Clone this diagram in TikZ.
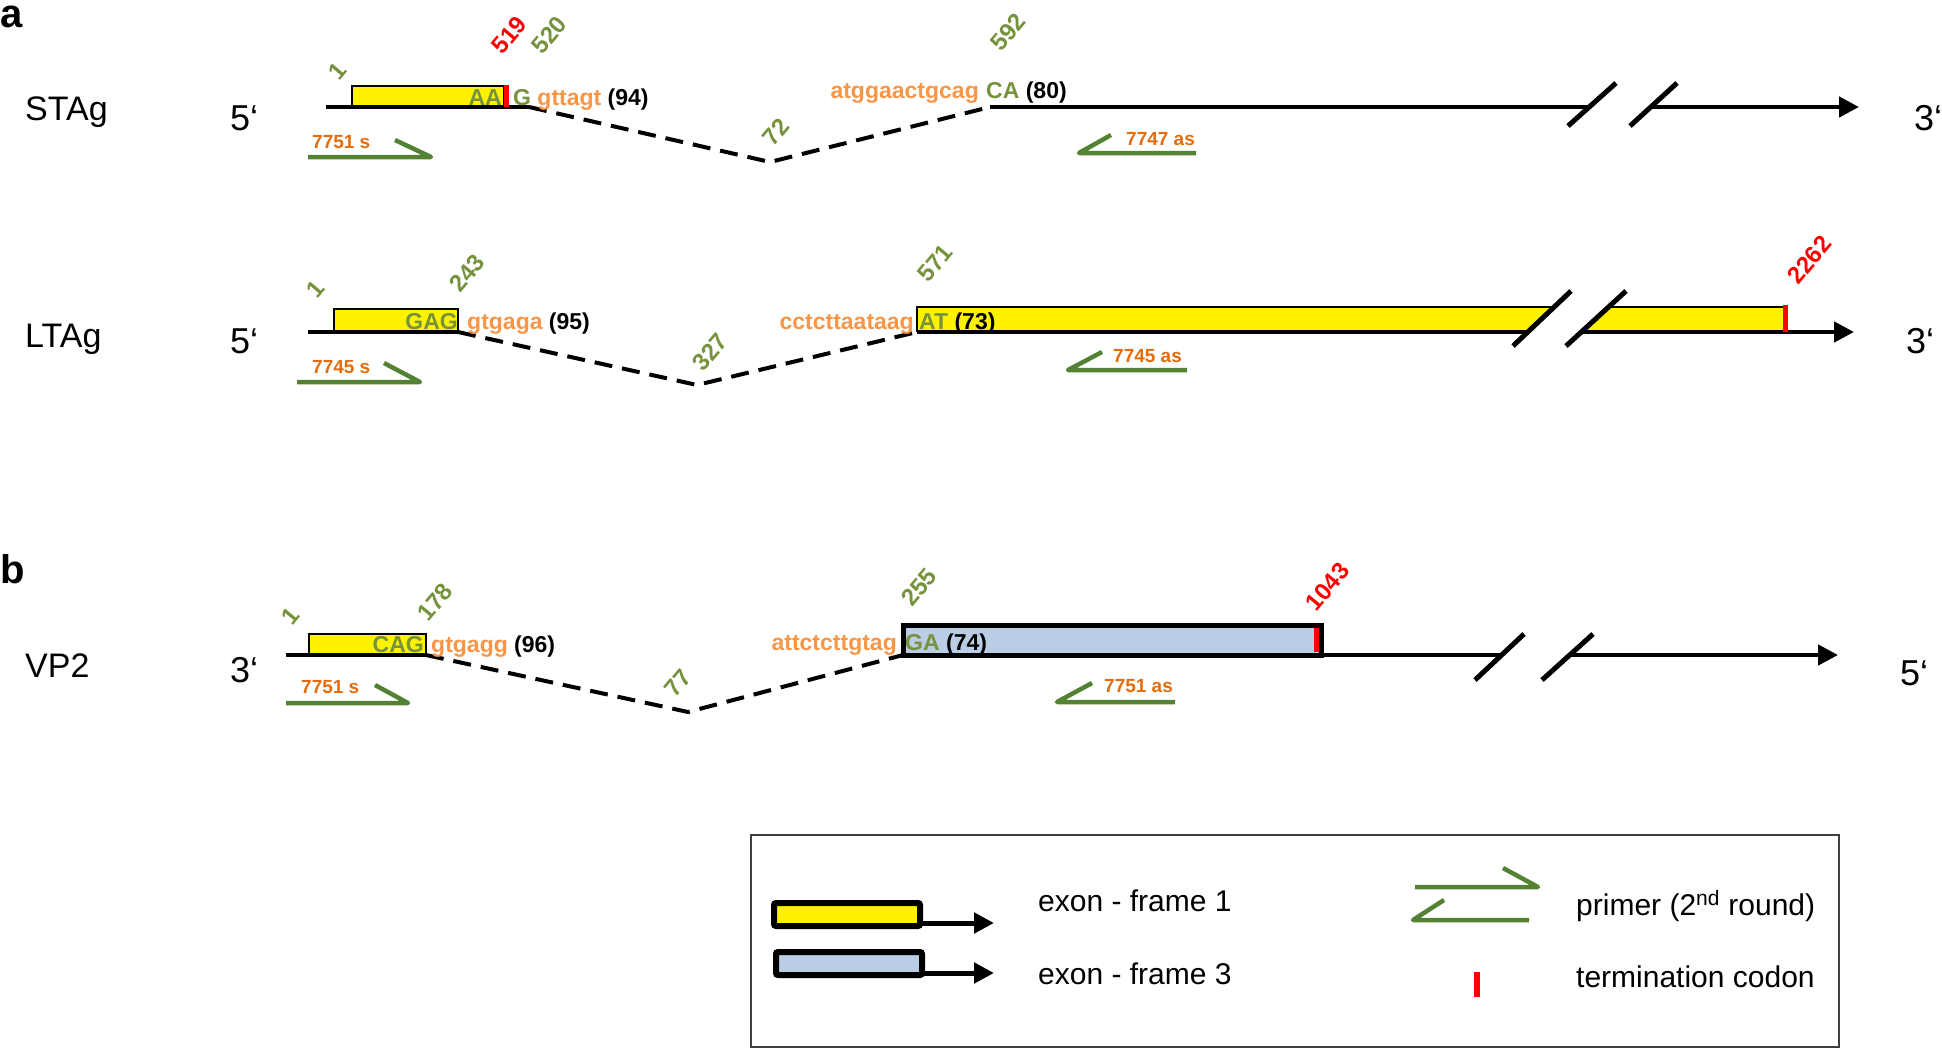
\documentclass[tikz,border=0pt]{standalone}
\usepackage{fontspec}
\setmainfont{Liberation Sans}
\usepackage{xcolor}
\usepackage{tikz}
\usetikzlibrary{arrows.meta}
\definecolor{olivegrn}{RGB}{118,146,60}
\definecolor{primgrn}{RGB}{84,130,53}
\definecolor{seqorange}{RGB}{247,150,70}
\definecolor{lblorange}{RGB}{228,108,10}
\definecolor{vpblue}{RGB}{185,205,228}
\def\fs#1{\fontsize{#1}{#1}\selectfont}
\tikzstyle{gene}=[line width=3.5pt]
\tikzstyle{genearrow}=[line width=4.5pt,-{Triangle[length=20pt,width=20pt]}]
\tikzstyle{intron}=[line width=4pt,dash pattern=on 18pt off 10pt]
\tikzstyle{frameone}=[draw=black,fill=yellow,line width=2pt]
\tikzstyle{framethree}=[draw=black,fill=vpblue,line width=5pt]
\tikzstyle{stopbar}=[draw=red,line width=5pt]
\tikzstyle{slash}=[line width=5pt]
\tikzstyle{primer}=[draw=primgrn,line width=4.5pt,line join=round]
\tikzstyle{numlabel}=[font=\fs{24}\bfseries,text=olivegrn,rotate=50,anchor=south west,inner sep=0pt]
\tikzstyle{stoplabel}=[numlabel,text=red]
\tikzstyle{seq}=[font=\fs{23}\bfseries,inner sep=0pt,anchor=base west]
\tikzstyle{plabel}=[font=\fs{19}\bfseries,text=lblorange,inner sep=0pt,anchor=base west]
\tikzstyle{gname}=[font=\fs{34},inner sep=0pt,anchor=base west]
\tikzstyle{strand}=[font=\fs{36},inner sep=0pt,anchor=base west]
\tikzstyle{panel}=[font=\fs{40}\bfseries,inner sep=0pt,anchor=base west]
\tikzstyle{legtext}=[font=\fs{30},inner sep=0pt,anchor=base west]
\tikzstyle{legarrow}=[line width=5pt,-{Triangle[length=20pt,width=20pt]}]

\begin{document}
\begin{tikzpicture}[x=1pt,y=-1pt]
  \useasboundingbox (0,0) rectangle (1942,1049);

  % ---- a: STAg
  \node[panel] (pa) at (0,28) {a};
  \node[gname] (stname) at (25,120) {STAg};
  \node[strand] (st5) at (230,130) {5‘};
  \node[strand] (st3p) at (1914,130) {3‘};
  \coordinate (st0) at (326,107);
  \coordinate (st1) at (529,107);
  \coordinate (stv) at (770,162);
  \coordinate (st2) at (990,107);
  \coordinate (stb1) at (1589,107);
  \coordinate (stb2) at (1651,107);
  \coordinate (stend) at (1859,107);
  \draw[frameone] (352,107) rectangle (504,86);
  \draw[gene] (st0) -- (st1);
  \draw[intron] (st1) -- (stv) -- (st2);
  \draw[gene,line width=4.5pt] (st2) -- (stb1);
  \draw[genearrow] (stb2) -- (stend);
  \draw[slash] (1568,126) -- (1616,83);
  \draw[slash] (1630,126) -- (1677,83);
  \draw[stopbar] (506,85) -- (506,107);
  \node[seq,anchor=base east,text=olivegrn] (staa) at (502,105) {AA};
  \node[seq] (stdon) at (513,105) {\textcolor{olivegrn}{G} \textcolor{seqorange}{gttagt} (94)};
  \node[seq,anchor=base east,text=seqorange] (stacc) at (979,98) {atggaactgcag};
  \node[seq] (stca) at (986,98) {\textcolor{olivegrn}{CA} (80)};
  \node[numlabel] (st1n) at (340,82) {1};
  \node[stoplabel] (st519) at (503,56) {519};
  \node[numlabel] (st520) at (543,56) {520};
  \node[numlabel] (st72) at (774,148) {72};
  \node[numlabel] (st592) at (1002,53) {592};
  % primers
  \coordinate (sps0) at (308,157); \coordinate (sps1) at (431,157); \coordinate (sps2) at (395,140);
  \draw[primer] (sps0) -- (sps1) -- (sps2);
  \node[plabel] (spsl) at (312,148) {7751 s};
  \coordinate (spa0) at (1196,153); \coordinate (spa1) at (1079,153); \coordinate (spa2) at (1111,135);
  \draw[primer] (spa0) -- (spa1) -- (spa2);
  \node[plabel] (spal) at (1126,145) {7747 as};

  % ---- a: LTAg
  \node[gname] (ltname) at (25,347) {LTAg};
  \node[strand] (lt5) at (230,353) {5‘};
  \node[strand] (lt3p) at (1906,353) {3‘};
  \coordinate (lt0) at (308,332);
  \coordinate (lt1) at (458,332);
  \coordinate (ltv) at (697,385);
  \coordinate (lt2) at (917,332);
  \coordinate (ltb1) at (1528,332);
  \coordinate (ltb2) at (1581,332);
  \coordinate (ltend) at (1854,332);
  \draw[frameone] (334,332) rectangle (458,309);
  \fill[yellow] (917,307) -- (1554,307) -- (ltb1) -- (lt2) -- cycle;
  \fill[yellow] (1607,307) -- (1785,307) -- (1785,332) -- (ltb2) -- cycle;
  \draw[line width=2pt] (lt2) -- (917,307) -- (1554,307);
  \draw[line width=2pt] (1607,307) -- (1785,307);
  \draw[gene] (lt0) -- (lt1);
  \draw[intron] (lt1) -- (ltv) -- (lt2);
  \draw[gene,line width=4.5pt] (lt2) -- (ltb1);
  \draw[genearrow] (ltb2) -- (ltend);
  \draw[slash] (1513,346) -- (1571,291);
  \draw[slash] (1566,346) -- (1626,291);
  \draw[stopbar] (1785,305) -- (1785,332);
  \node[seq,anchor=base east,text=olivegrn] (ltgag) at (458,329) {GAG};
  \node[seq] (ltdon) at (467,329) {\textcolor{seqorange}{gtgaga} (95)};
  \node[seq,anchor=base east,text=seqorange] (ltacc) at (914,329) {cctcttaataag};
  \node[seq] (ltat) at (919,329) {\textcolor{olivegrn}{AT} (73)};
  \node[numlabel] (lt1n) at (318,300) {1};
  \node[numlabel] (lt243) at (461,294) {243};
  \node[numlabel] (lt327) at (704,373) {327};
  \node[numlabel] (lt571) at (929,284) {571};
  \node[stoplabel] (lt2262) at (1799,286) {2262};
  \coordinate (lps0) at (297,382); \coordinate (lps1) at (420,382); \coordinate (lps2) at (384,363);
  \draw[primer] (lps0) -- (lps1) -- (lps2);
  \node[plabel] (lpsl) at (312,373) {7745 s};
  \coordinate (lpa0) at (1187,370); \coordinate (lpa1) at (1068,370); \coordinate (lpa2) at (1102,352);
  \draw[primer] (lpa0) -- (lpa1) -- (lpa2);
  \node[plabel] (lpal) at (1113,362) {7745 as};

  % ---- b: VP2
  \node[panel] (pb) at (0,583) {b};
  \node[gname] (vpname) at (25,677) {VP2};
  \node[strand] (vp3) at (230,682) {3‘};
  \node[strand] (vp5p) at (1900,685) {5‘};
  \coordinate (vp0) at (286,655);
  \coordinate (vp1) at (426,655);
  \coordinate (vpv) at (688,712);
  \coordinate (vp2) at (903,655);
  \coordinate (vpb1) at (1502,655);
  \coordinate (vpb2) at (1570,655);
  \coordinate (vpend) at (1838,655);
  \draw[frameone] (309,655) rectangle (426,634);
  \draw[gene] (vp0) -- (vp1);
  \draw[intron] (vp1) -- (vpv) -- (vp2);
  \draw[gene,line width=4.5pt] (vp2) -- (vpb1);
  \draw[framethree] (vp2) rectangle (1321,625);
  \draw[genearrow] (vpb2) -- (vpend);
  \draw[slash] (1475,680) -- (1524,634);
  \draw[slash] (1542,680) -- (1593,634);
  \draw[stopbar] (1316,628) -- (1316,652);
  \node[seq,anchor=base east,text=olivegrn] (vpcag) at (424,652) {CAG};
  \node[seq] (vpdon) at (431,652) {\textcolor{seqorange}{gtgagg} (96)};
  \node[seq,anchor=base east,text=seqorange] (vpacc) at (897,650) {attctcttgtag};
  \node[seq] (vpga) at (905,650) {\textcolor{olivegrn}{GA} (74)};
  \node[numlabel] (vp1n) at (293,627) {1};
  \node[numlabel] (vp178) at (429,623) {178};
  \node[numlabel] (vp77) at (676,699) {77};
  \node[numlabel] (vp255) at (913,608) {255};
  \node[stoplabel] (vp1043) at (1317,613) {1043};
  \coordinate (vps0) at (286,703); \coordinate (vps1) at (408,703); \coordinate (vps2) at (375,685);
  \draw[primer] (vps0) -- (vps1) -- (vps2);
  \node[plabel] (vpsl) at (301,693) {7751 s};
  \coordinate (vpa0) at (1175,702); \coordinate (vpa1) at (1057,702); \coordinate (vpa2) at (1092,683);
  \draw[primer] (vpa0) -- (vpa1) -- (vpa2);
  \node[plabel] (vpal) at (1104,692) {7751 as};

  % ---- legend
  \draw[line width=1.5pt,draw=black!75] (751,835) rectangle (1839,1047);
  \coordinate (ly0) at (920,923); \coordinate (ly1) at (994,923);
  \draw[legarrow] (ly0) -- (ly1);
  \draw[frameone,line width=6pt,rounded corners=2pt] (774,903) rectangle (920,926);
  \coordinate (lb0) at (922,973); \coordinate (lb1) at (994,973);
  \draw[legarrow] (lb0) -- (lb1);
  \draw[framethree,line width=6pt,rounded corners=2pt] (776,952) rectangle (922,975);
  \node[legtext] (lgone) at (1038,911) {exon - frame 1};
  \node[legtext] (lgthree) at (1038,984) {exon - frame 3};
  \coordinate (lf0) at (1415,887); \coordinate (lf1) at (1538,887); \coordinate (lf2) at (1503,868);
  \draw[primer] (lf0) -- (lf1) -- (lf2);
  \coordinate (lr0) at (1529,920); \coordinate (lr1) at (1413,920); \coordinate (lr2) at (1444,900);
  \draw[primer] (lr0) -- (lr1) -- (lr2);
  \node[legtext] (lgprim) at (1576,915) {primer (2\textsuperscript{nd} round)};
  \draw[stopbar,line width=6pt] (1477,972) -- (1477,997);
  \node[legtext] (lgstop) at (1576,987) {termination codon};
\end{tikzpicture}
\end{document}
